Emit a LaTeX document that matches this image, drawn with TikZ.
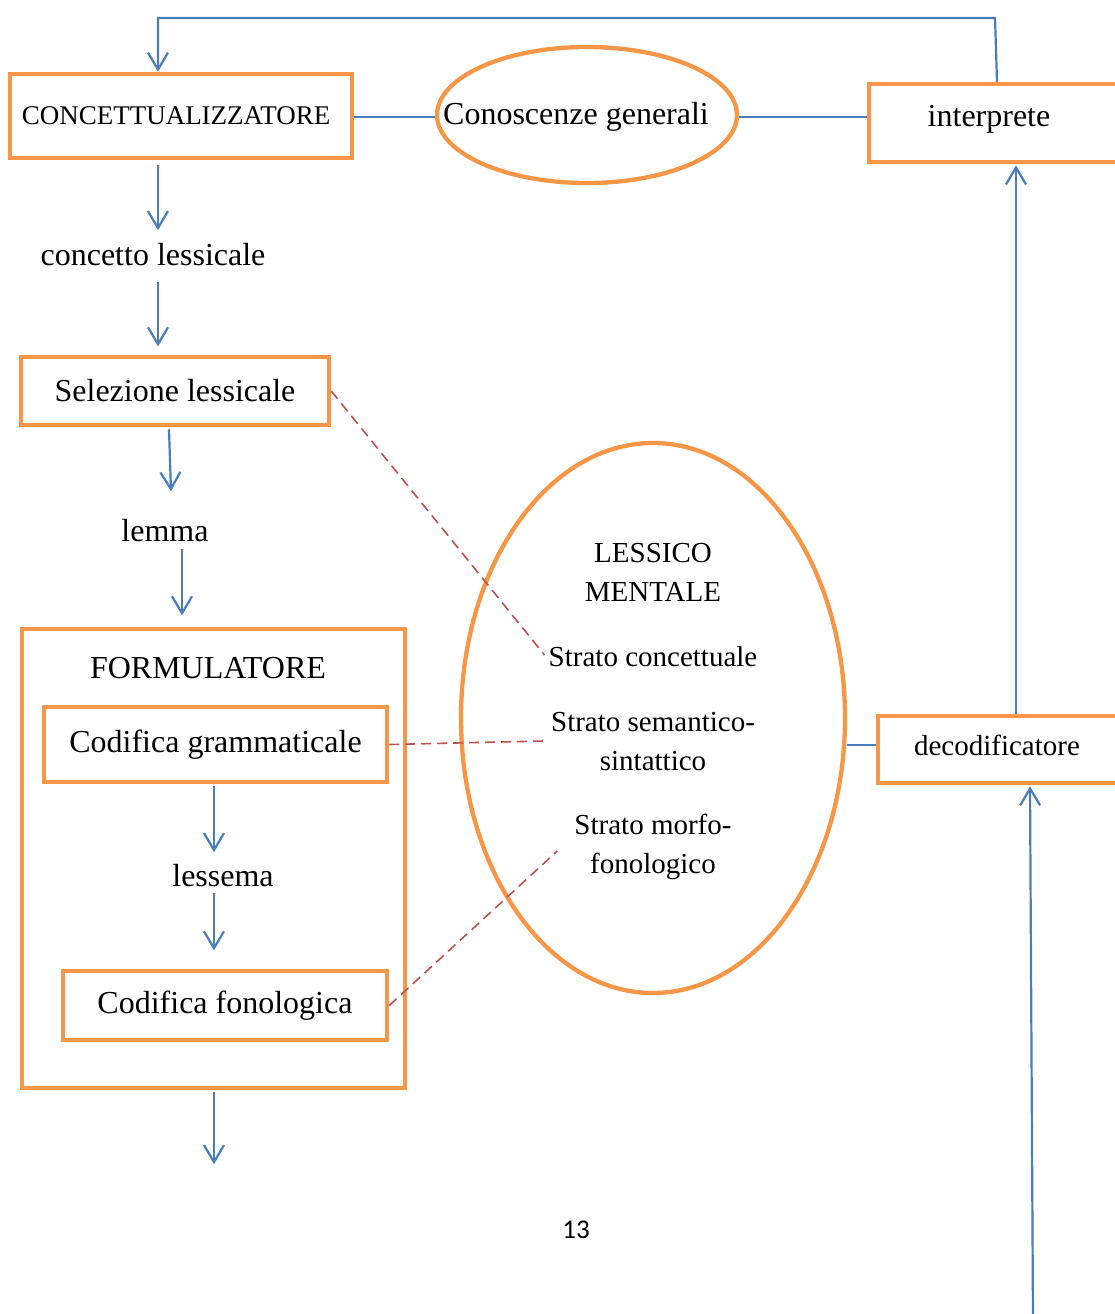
\documentclass[tikz,border=0pt]{standalone}
\usepackage{fontspec}
\setmainfont{Liberation Serif}
\newfontfamily\calibfont{Carlito}
\usetikzlibrary{arrows.meta,shapes.geometric}
\definecolor{borange}{HTML}{F79646}
\definecolor{lblue}{HTML}{4A7EBB}
\definecolor{dred}{HTML}{C0504D}
\newcommand\fsMain{\fontsize{32}{38}\selectfont}
\newcommand\fsLex{\fontsize{29}{39}\selectfont}
\newcommand\fsCon{\fontsize{27}{30}\selectfont}
\begin{document}
\begin{tikzpicture}[x=1pt,y=-1pt,
  obox/.style={draw=borange,line width=4.5pt,rectangle,inner sep=0pt,font=\fsMain},
  oell/.style={draw=borange,line width=4.3pt,ellipse,inner sep=0pt},
  txt/.style={inner sep=0pt,font=\fsMain},
  lextxt/.style={inner sep=0pt,font=\fsLex,align=center},
  link/.style={draw=lblue,line width=2.2pt},
  arr/.style={link,-{Straight Barb[length=17pt,width=20pt]}},
  redlink/.style={draw=dred,line width=1.6pt,dash pattern=on 10pt off 6pt}]
\useasboundingbox (0,0) rectangle (1115,1314);
\clip (0,0) rectangle (1115,1314);

% boxes and ellipses
\node[obox,minimum width=342pt,minimum height=84pt,font=\fsCon] (concett) at (181,116) {\hspace*{-10pt}CONCETTUALIZZATORE};
\node[oell,minimum width=300pt,minimum height=136pt] (cono) at (587,115) {};
\node[txt] (conoT) at (576,117) {Conoscenze generali};
\node[obox,minimum width=252pt,minimum height=78pt] (interp) at (995,123) {};
\node[txt] (interpT) at (989,119) {interprete};

\node[txt] (cl) at (153,255) {concetto lessicale};
\node[obox,minimum width=308pt,minimum height=68pt] (selez) at (175,391) {Selezione lessicale};
\node[txt] (lemma) at (165,531) {lemma};

\node[obox,minimum width=383pt,minimum height=459pt] (form) at (213.5,858.5) {};
\node[txt] (formT) at (208,668) {FORMULATORE};
\node[obox,minimum width=343pt,minimum height=75pt] (cg) at (215.5,744.5) {Codifica grammaticale};
\node[txt] (less) at (223,876) {lessema};
\node[obox,minimum width=324pt,minimum height=69pt] (cf) at (225,1005.5) {Codifica fonologica};

\node[oell,minimum width=384pt,minimum height=550pt] (lex) at (653,718) {};
\node[lextxt] (lexT) at (653,572) {LESSICO\\MENTALE};
\node[lextxt] (sc) at (653,657) {Strato concettuale};
\node[lextxt] (ssem) at (653,742) {Strato semantico-\\sintattico};
\node[lextxt] (smor) at (653,847) {Strato morfo-\\fonologico};

\node[obox,minimum width=243pt,minimum height=67pt] (decod) at (999.5,749.5) {};
\node[inner sep=0pt,font=\fsLex] (decodT) at (997,745) {decodificatore};

\node[inner sep=0pt,font=\calibfont\fontsize{27}{30}\selectfont] (pnum) at (576,1230) {13};

% connectors
\draw[arr] (interp.north -| 997,0) -- (995,18) -- (158,18) -- (concett.north -| 158,0);
\draw[link] (concett.east) ++(0,1) -- (cono.west |- 0,117);
\draw[link] (cono.east |- 0,117) -- (interp.west |- 0,117);

\draw[arr] (concett.south -| 158,0) ++(0,5) -- ++(0,65);
\draw[arr] (cl.south -| 158,0) ++(0,16) -- ++(0,64);
\draw[arr] (selez.south -| 169,0) ++(0,2) -- ++(2,62);
\draw[arr] (lemma.south -| 182,0) ++(0,7) -- ++(0,66);
\draw[arr] (cg.south -| 214,0) ++(0,2) -- ++(0,66);
\draw[arr] (less.south -| 214,0) ++(0,6) -- ++(0,57);
\draw[arr] (form.south -| 214,0) ++(0,2) -- ++(0,72);

\path ([yshift=4.5pt]decod.west) coordinate (dw);
\draw[link] (dw) -- (dw -| lex.east);
\draw[arr,shorten >=1pt] (decod.north -| 1016,0) -- (interp.south -| 1016,0);
\coordinate (bottomIn) at (1033,1320);
\draw[arr,shorten >=1pt] (bottomIn) -- (decod.south -| 1030,0);

\draw[redlink] (selez.east) -- ([xshift=-4pt,yshift=2pt]sc.west);
\draw[redlink] (cg.east) -- ([xshift=-7pt,yshift=1pt]ssem.west);
\draw[redlink] (cf.east) -- ([xshift=-17pt,yshift=-4pt]smor.west);
\end{tikzpicture}
\end{document}
